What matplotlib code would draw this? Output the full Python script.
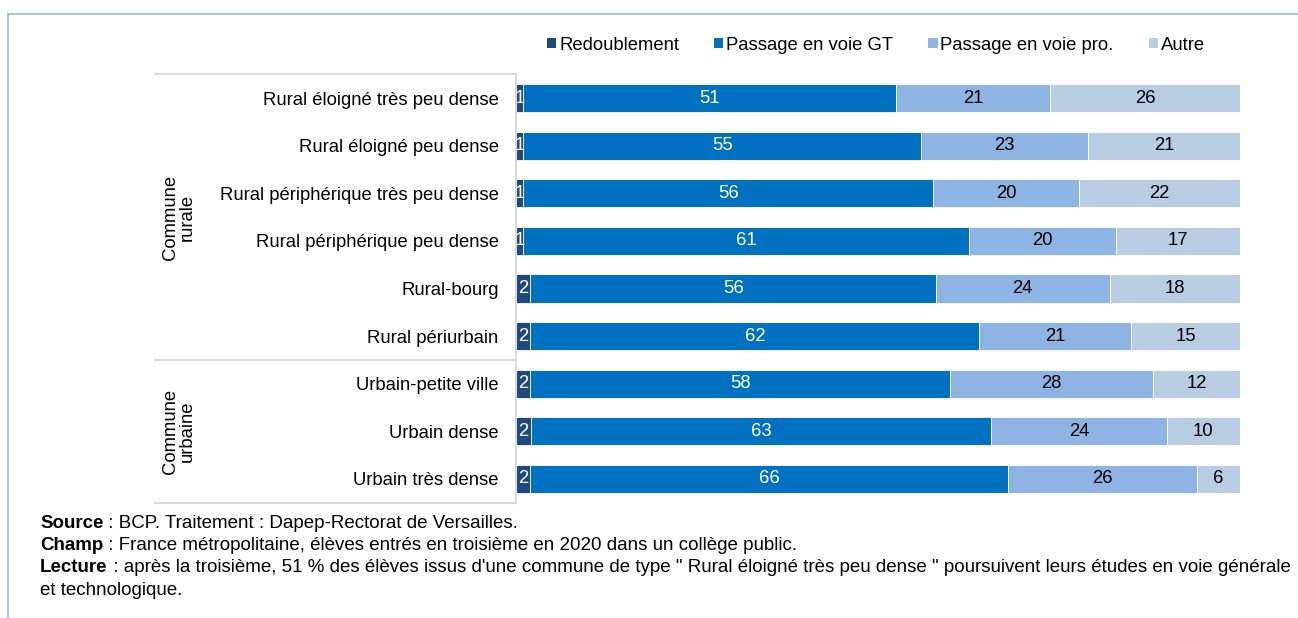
import numpy as np
import matplotlib.pyplot as plt
from matplotlib.lines import Line2D
from matplotlib.patches import Patch

plt.rcParams['font.family'] = ['Liberation Sans', 'DejaVu Sans']

categories = ["Rural éloigné très peu dense", "Rural éloigné peu dense",
              "Rural périphérique très peu dense", "Rural périphérique peu dense",
              "Rural-bourg", "Rural périurbain",
              "Urbain-petite ville", "Urbain dense", "Urbain très dense"]
series = ["Redoublement", "Passage en voie GT", "Passage en voie pro.", "Autre"]
redoublement = [1, 1, 1, 1, 2, 2, 2, 2, 2]
voie_gt = [51, 55, 56, 61, 56, 62, 58, 63, 66]
voie_pro = [21, 23, 20, 20, 24, 21, 28, 24, 26]
autre = [26, 21, 22, 17, 18, 15, 12, 10, 6]
groups = ["Commune\nrurale", "Commune\nurbaine"]
group_sizes = [6, 3]

colors = ["#1F497D", "#0070C0", "#8DB4E2", "#B8CCE4"]
txt_colors = ["white", "white", "black", "black"]
FS = 13.3

data = np.array([redoublement, voie_gt, voie_pro, autre], dtype=float)
pct = data / data.sum(axis=0) * 100  # 100 % empilé

W, H = 1298, 618
fig = plt.figure(figsize=(W / 100, H / 100), dpi=100)
ax = fig.add_axes([516 / W, 1 - 502.8 / H, 724 / W, 428.6 / H])

y = np.arange(len(categories))
left = np.zeros(len(categories))
for i in range(len(series)):
    ax.barh(y, pct[i], left=left, height=0.59, color=colors[i],
            edgecolor='white', linewidth=0.6, label=series[i])
    for j in range(len(categories)):
        ax.text(left[j] + pct[i][j] / 2, y[j], "%d" % data[i][j],
                ha='center', va='center', fontsize=FS, color=txt_colors[i])
    left += pct[i]

ax.set_xlim(0, 100)
ax.set_ylim(len(categories) - 0.5, -0.5)
ax.set_yticks(y)
ax.set_yticklabels(categories, fontsize=FS)
ax.tick_params(axis='y', length=0, pad=12.5)
ax.set_xticks([])
for s in ['top', 'right', 'bottom']:
    ax.spines[s].set_visible(False)
ax.spines['left'].set_color('#D9D9D9')
ax.spines['left'].set_linewidth(1.5)

# cadre des groupes
trans = ax.get_yaxis_transform()
xl = (155 - 516) / 724
bounds = [-0.5, group_sizes[0] - 0.5, len(categories) - 0.5]
for b in bounds:
    ax.add_line(Line2D([xl, 0], [b, b], transform=trans, color='#D9D9D9',
                       linewidth=1.5, clip_on=False))
start = 0
for g, n in zip(groups, group_sizes):
    mid = start + (n - 1) / 2
    ax.text((179 - 516) / 724, mid, g, transform=trans, rotation=90,
            ha='center', va='center', fontsize=FS, linespacing=1.0)
    start += n

handles = [Patch(facecolor=c) for c in colors]
fig.legend(handles, series, loc='center', bbox_to_anchor=(876 / W, 1 - 45 / H),
           ncol=4, frameon=False, fontsize=FS, handlelength=0.5,
           handleheight=0.5, handletextpad=0.15, columnspacing=1.9)

# cadre extérieur
fig.add_artist(Line2D([8 / W, 1], [1 - 14 / H, 1 - 14 / H], transform=fig.transFigure,
                      color='#9DB9DE', linewidth=1.2))
fig.add_artist(Line2D([8 / W, 8 / W], [0, 1 - 14 / H], transform=fig.transFigure,
                      color='#9DB9DE', linewidth=1.2))

# notes
notes = [("Source", " : BCP. Traitement : Dapep-Rectorat de Versailles."),
         ("Champ", " : France métropolitaine, élèves entrés en troisième en 2020 dans un collège public."),
         ("Lecture", " : après la troisième, 51 % des élèves issus d'une commune de type \" Rural éloigné très peu dense \" poursuivent leurs études en voie générale"),
         ("", "et technologique.")]
renderer = fig.canvas.get_renderer()
yy = 1 - 523 / H
for bold, rest in notes:
    x0 = 40 / W
    if bold:
        t = fig.text(x0, yy, bold, fontsize=13.5, fontweight='bold', va='center')
        bb = t.get_window_extent(renderer)
        x0 = bb.x1 / W
    fig.text(x0, yy, rest, fontsize=13.5, va='center')
    yy -= 22.5 / H

fig.savefig('out.png', dpi=100)
